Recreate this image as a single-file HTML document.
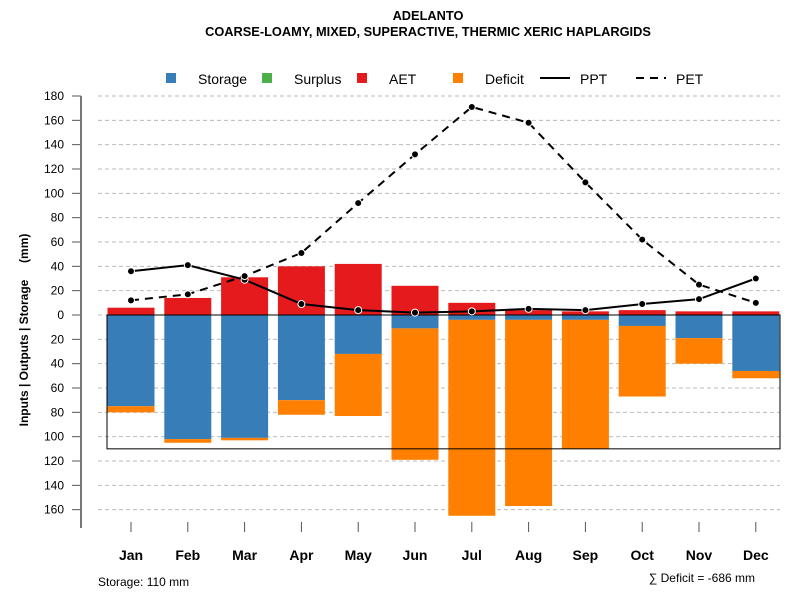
<!DOCTYPE html>
<html><head><meta charset="utf-8"><style>
body{margin:0;background:#fff;font-family:"Liberation Sans",sans-serif}
</style></head><body>
<svg id="c" width="800" height="600" xmlns="http://www.w3.org/2000/svg" font-family="Liberation Sans, sans-serif">
<text x="428" y="20" text-anchor="middle" font-size="12.8" font-weight="bold">ADELANTO</text>
<text x="428" y="36" text-anchor="middle" font-size="12.8" font-weight="bold">COARSE-LOAMY, MIXED, SUPERACTIVE, THERMIC XERIC HAPLARGIDS</text>
<g font-size="14">
<rect x="166" y="73" width="10" height="10" fill="#377EB8"/>
<text x="198" y="84">Storage</text>
<rect x="262" y="73" width="10" height="10" fill="#4DAF4A"/>
<text x="294" y="84">Surplus</text>
<rect x="357" y="73" width="10" height="10" fill="#E41A1C"/>
<text x="389" y="84">AET</text>
<rect x="453" y="73" width="10" height="10" fill="#FF7F00"/>
<text x="485" y="84">Deficit</text>
<line x1="540" y1="78" x2="570" y2="78" stroke="#000" stroke-width="2"/>
<text x="580" y="84">PPT</text>
<line x1="636" y1="78" x2="666" y2="78" stroke="#000" stroke-width="2" stroke-dasharray="8,6"/>
<text x="676" y="84">PET</text>
</g>
<text transform="translate(28,330) rotate(-90)" text-anchor="middle" font-size="12" font-weight="bold" xml:space="preserve" style="white-space:pre">Inputs | Outputs | Storage     (mm)</text>
<text x="98" y="586" font-size="12">Storage: 110 mm</text>
<text x="755" y="582" text-anchor="end" font-size="12">∑ Deficit = -686 mm</text>
<g id="g"></g>
</svg>
<script>
const months=["Jan","Feb","Mar","Apr","May","Jun","Jul","Aug","Sep","Oct","Nov","Dec"];
const aet=[6,14,31,40,42,24,10,4,3,4,3,3];
const storage=[75,102,101,70,32,11,4,4,4,9,19,46];
const deficit=[5,3,2,12,51,108,161,153,106,58,21,6];
const ppt=[36,41,29,9,4,2,3,5,4,9,13,30];
const pet=[12,17,32,51,92,132,171,158,109,62,25,10];
const yTicks=[180,160,140,120,100,80,60,40,20,0,20,40,60,80,100,120,140,160];
const yTickVals=[180,160,140,120,100,80,60,40,20,0,-20,-40,-60,-80,-100,-120,-140,-160];
const soilStorage=110;
const NS="http://www.w3.org/2000/svg";
const g=document.getElementById('g');
const y=v=>315-v*1.2167;
const x=i=>131+i*56.8;
const bw=47;
function mk(t,a){const e=document.createElementNS(NS,t);for(const k in a)e.setAttribute(k,a[k]);g.appendChild(e);return e;}
yTickVals.forEach((v,i)=>{
 const gl=mk('line',{x1:98,x2:780,y1:y(v),y2:y(v),stroke:'#bbb','stroke-dasharray':'4,3'});
 
 
 const tk=mk('line',{x1:72,x2:81,y1:y(v),y2:y(v),stroke:'#555'});
 
 
 const t=mk('text',{x:64,y:y(v)+4,'text-anchor':'end','font-size':12});
 t.textContent=yTicks[i];
 
 
});
const ax=mk('line',{x1:81,x2:81,y1:y(180),y2:528,stroke:'#777','stroke-width':2});


months.forEach((m,i)=>{
 const cx=x(i);
 let r=mk('rect',{x:cx-bw/2,y:y(aet[i]),width:bw,height:y(0)-y(aet[i]),fill:'#E41A1C'});
 
 
 r=mk('rect',{x:cx-bw/2,y:y(0),width:bw,height:y(-storage[i])-y(0),fill:'#377EB8'});
 
 
 r=mk('rect',{x:cx-bw/2,y:y(-storage[i]),width:bw,height:y(-storage[i]-deficit[i])-y(-storage[i]),fill:'#FF7F00'});
 
 
 const tk=mk('line',{x1:cx,x2:cx,y1:522,y2:532,stroke:'#555'});
 
 
 const t=mk('text',{x:cx,y:560,'text-anchor':'middle','font-size':14,'font-weight':'bold'});
 t.textContent=m;
 
 
});
const box=mk('rect',{x:107,y:y(0),width:673,height:y(-soilStorage)-y(0),fill:'none',stroke:'#000'});


const zl=mk('line',{x1:107,x2:780,y1:y(0),y2:y(0),stroke:'#000'});


function series(arr,name,dash){
 const p=mk('polyline',{points:arr.map((v,i)=>x(i)+','+y(v)).join(' '),fill:'none',stroke:'#000','stroke-width':2,'stroke-dasharray':dash});
 
 
 arr.forEach((v,i)=>{
  const c=mk('circle',{cx:x(i),cy:y(v),r:3.5,fill:'#000',stroke:'#fff','stroke-width':1});
  
  
 });
}
series(ppt,'ppt','none');
series(pet,'pet','8,6');
</script>
</body></html>
